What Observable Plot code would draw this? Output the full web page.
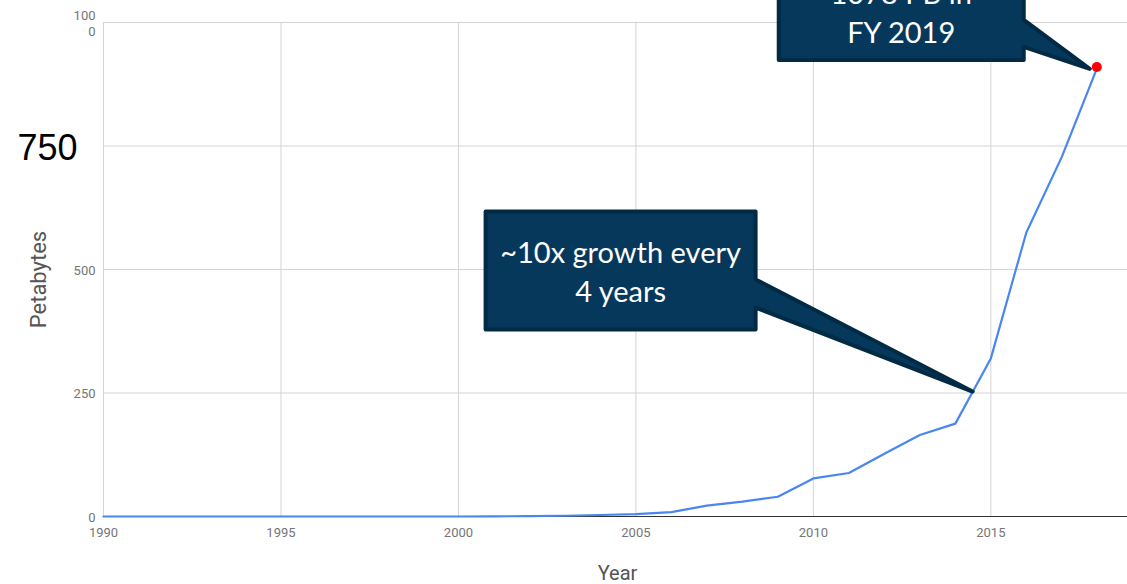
<!DOCTYPE html>
<html>
<head>
<meta charset="utf-8">
<script src="https://cdn.jsdelivr.net/npm/d3@7"></script>
<script src="https://cdn.jsdelivr.net/npm/@observablehq/plot@0.6"></script>
<style>
  html, body { margin: 0; padding: 0; background: #fff; }
  #chart svg { display: block; }
</style>
</head>
<body>
<div id="chart"></div>
<script>
// ---- data ----
const years = [1990,1991,1992,1993,1994,1995,1996,1997,1998,1999,2000,2001,2002,2003,2004,2005,2006,2007,2008,2009,2010,2011,2012,2013,2014,2015,2016,2017,2018];
const petabytes = [0,0,0,0,0,0,0,0,0,0,0,0.3,0.8,1.5,3,5,9,22,30,40,77,88,127,165,188,320,575,728,909];
const xTicks = [1990,1995,2000,2005,2010,2015];
const yTickValues = [0,250,500,750,1000];
const yTickLabels = ["0","250","500","750","100\n0"];
const calloutTexts = [["~10x growth every","4 years"],["1078 PB in","FY 2019"]];
const calloutTipYears = [2014.5, 2017.8];
const calloutTipValues = [252, 905];
const highlightYear = 2018;
const highlightValue = 909;

// ---- build ----
const data = years.map((y,i) => ({year: y, value: petabytes[i]}));
const yTicks = yTickValues.map((v,i) => ({value: v, label: yTickLabels[i]}));
const axisFont = "Roboto, 'Noto Sans', sans-serif";

const chart = Plot.plot({
  width: 1127,
  height: 584,
  marginLeft: 103,
  marginRight: 0,
  marginTop: 22,
  marginBottom: 68,
  style: {fontFamily: axisFont, background: "#fff", overflow: "visible"},
  x: {domain: [1990, 2018.85], axis: null},
  y: {domain: [0, 1000], axis: null},
  marks: [
    Plot.gridX(xTicks, {stroke: "#d4d4d4", strokeOpacity: 1, strokeWidth: 1}),
    Plot.gridY(yTickValues.filter(v => v > 0), {stroke: "#d4d4d4", strokeOpacity: 1, strokeWidth: 1}),
    Plot.ruleY([0], {stroke: "#333", strokeWidth: 1}),
    Plot.text(xTicks, {x: d => d, frameAnchor: "bottom", lineAnchor: "middle", dy: 16, text: d => String(d), fontSize: 13, fill: "#757575"}),
    Plot.text(yTicks.filter(d => d.value !== 750), {y: "value", frameAnchor: "left", dx: -8, textAnchor: "end", text: "label", fontSize: 13, fill: "#757575", lineHeight: 1.25}),
    Plot.text(yTicks.filter(d => d.value === 750), {y: "value", frameAnchor: "left", dx: -26, dy: 2, textAnchor: "end", text: "label", fontSize: 36, fill: "#000", fontFamily: "'Liberation Sans', Arial, sans-serif"}),
    Plot.text(["Petabytes"], {frameAnchor: "left", textAnchor: "middle", lineAnchor: "middle", dx: -65, dy: 10, rotate: -90, text: d => d, fontSize: 22, fill: "#555"}),
    Plot.text(["Year"], {frameAnchor: "bottom", lineAnchor: "middle", dx: 2, dy: 57, text: d => d, fontSize: 20, fill: "#555"}),
    Plot.line(data, {x: "year", y: "value", stroke: "#4a86f0", strokeWidth: 2.2})
  ]
});

document.getElementById("chart").appendChild(chart);

// ---- callouts (anchored to data via the chart's scales) ----
const sx = chart.scale("x"), sy = chart.scale("y");
const layouts = [
  {box: [-487, -180, -217, -62], tail: [-112, -84], base: [-129, -90]},
  {box: [-311, -100, -66, -9], tail: [-49, -22], base: [-65, -26]}
];
const svg = d3.select(chart);
const g = svg.append("g");
calloutTexts.forEach((lines, i) => {
  const tx = sx.apply(calloutTipYears[i]), ty = sy.apply(calloutTipValues[i]);
  const L = layouts[i];
  const [l, t, r, b] = L.box.map((v, k) => (k % 2 === 0 ? tx : ty) + v);
  const pts = [[l, t], [r, t], [r, ty + L.tail[0]], [tx, ty], [r, ty + L.tail[1]], [r, b], [l, b]];
  g.append("path")
    .attr("d", "M" + pts.map(p => p.join(",")).join("L") + "Z")
    .attr("fill", "#06385b")
    .attr("stroke", "#022a45")
    .attr("stroke-width", 4)
    .attr("stroke-linejoin", "round");
  lines.forEach((s, j) => {
    g.append("text")
      .attr("x", (l + r) / 2)
      .attr("y", ty + L.base[j])
      .attr("text-anchor", "middle")
      .attr("fill", "#fff")
      .attr("font-family", "Lato, 'Open Sans', sans-serif")
      .attr("font-size", 29)
      .text(s);
  });
});
// highlighted last point
g.append("circle")
  .attr("cx", sx.apply(highlightYear))
  .attr("cy", sy.apply(highlightValue))
  .attr("r", 5)
  .attr("fill", "#f00");
</script>
</body>
</html>
